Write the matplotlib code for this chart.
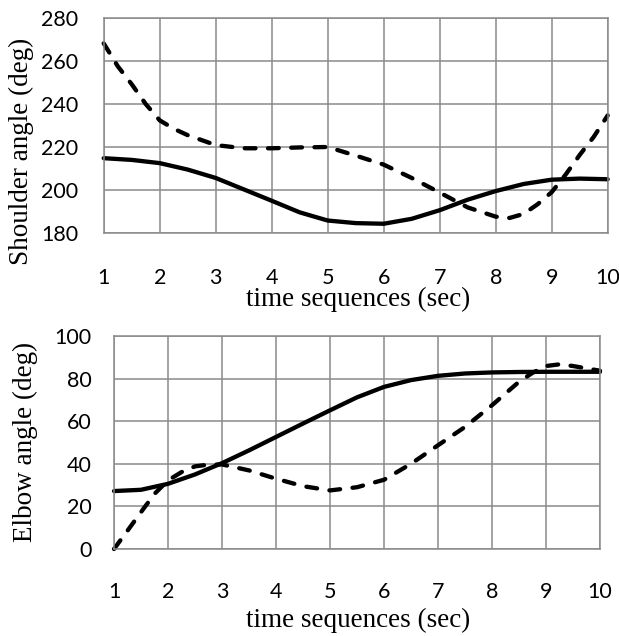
import matplotlib.pyplot as plt

# shoulder angle, solid and dashed traces
sh_solid_t = [1, 1.5, 2, 2.5, 3, 3.5, 4, 4.5, 5, 5.5, 6, 6.5, 7, 7.5, 8, 8.5, 9, 9.5, 10]
sh_solid = [214.8, 214.0, 212.5, 209.5, 205.6, 200.3, 195.0, 189.6, 185.8, 184.6,
            184.3, 186.6, 190.6, 195.5, 199.5, 202.8, 204.8, 205.3, 205.0]

sh_dash_t = [1, 1.25, 1.5, 1.75, 2, 2.25, 2.5, 3, 3.5, 4, 4.5, 5, 5.5, 6, 6.5, 7, 7.5,
             8, 8.25, 8.5, 8.75, 9, 9.25, 9.5, 9.75, 10]
sh_dash = [268.2, 257.6, 249.2, 240.0, 232.4, 228.5, 225.5, 220.9, 219.4, 219.4, 219.8,
           220.0, 216.0, 211.8, 205.6, 198.8, 191.9, 187.6, 187.0, 188.9, 193.4, 199.0,
           207.2, 216.3, 224.7, 234.7]

# elbow angle, solid and dashed traces
el_solid_t = [1, 1.5, 2, 2.5, 3, 3.5, 4, 4.5, 5, 5.5, 6, 6.5, 7, 7.5, 8, 8.5, 9, 9.5, 10]
el_solid = [27.2, 27.8, 30.6, 35.0, 40.3, 46.3, 52.6, 58.9, 65.1, 71.2, 76.1, 79.3,
            81.3, 82.4, 82.9, 83.1, 83.2, 83.2, 83.2]

el_dash_t = [1, 1.25, 1.5, 1.75, 2, 2.25, 2.5, 2.75, 3, 3.5, 4, 4.5, 5, 5.5, 6, 6.5, 7,
             7.5, 8, 8.5, 8.75, 9, 9.25, 9.5, 9.75, 10]
el_dash = [0, 8.6, 17.3, 25.9, 32.2, 36.1, 38.8, 39.6, 39.7, 36.9, 33.0, 29.5, 27.5,
           29.0, 32.5, 40.0, 48.7, 57.3, 67.5, 78.5, 82.7, 85.9, 86.7, 85.9, 84.8, 83.7]

xticks = list(range(1, 11))
sh_ticks = [180, 200, 220, 240, 260, 280]
el_ticks = [0, 20, 40, 60, 80, 100]

W, H = 619, 636
fig = plt.figure(figsize=(W / 100, H / 100), dpi=100)

grid_col = '#8a8a8a'
tick_font = 'Lato'
label_font = 'Liberation Serif'


def setup(ax, yticks, ypad, xpad):
    ax.set_xlim(1, 10)
    ax.set_ylim(yticks[0], yticks[-1])
    ax.set_xticks(xticks)
    ax.set_yticks(yticks)
    ax.grid(True, color=grid_col, linewidth=1.1)
    ax.set_axisbelow(True)
    for s in ax.spines.values():
        s.set_color(grid_col)
        s.set_linewidth(1.1)
    ax.tick_params(axis='both', length=0, labelsize=15.5)
    ax.tick_params(axis='y', pad=ypad)
    ax.tick_params(axis='x', pad=xpad)
    for lab in ax.get_xticklabels() + ax.get_yticklabels():
        lab.set_fontfamily(tick_font)


def draw(ax, t1, y1, t2, y2):
    ax.plot(t1, y1, color='black', linewidth=3.1, solid_capstyle='round',
            solid_joinstyle='round', clip_on=False)
    ln, = ax.plot(t2, y2, color='black', linewidth=3.1, dash_capstyle='round',
                  dash_joinstyle='round', clip_on=False)
    ln.set_dashes((2.5, 2.9))


# top: shoulder
ax1 = fig.add_axes([103.7 / W, 1 - 233 / H, 504 / W, 215 / H])
setup(ax1, sh_ticks, 18.5, 25.5)
draw(ax1, sh_solid_t, sh_solid, sh_dash_t, sh_dash)

# bottom: elbow
ax2 = fig.add_axes([114 / W, 1 - 549 / H, 486 / W, 213 / H])
setup(ax2, el_ticks, 16, 23.5)
draw(ax2, el_solid_t, el_solid, el_dash_t, el_dash)

fig.text(21.5 / W, 1 - 151 / H, 'Shoulder angle (deg)', rotation=90, ha='center',
         va='center', fontsize=19.5, family=label_font)
fig.text(25.5 / W, 1 - 441.5 / H, 'Elbow angle (deg)', rotation=90, ha='center',
         va='center', fontsize=19.5, family=label_font)
fig.text(358 / W, 1 - 299.5 / H, 'time sequences (sec)', ha='center', va='center',
         fontsize=19.5, family=label_font)
fig.text(358 / W, 1 - 620 / H, 'time sequences (sec)', ha='center', va='center',
         fontsize=19.5, family=label_font)

fig.savefig('out.png', dpi=100)
